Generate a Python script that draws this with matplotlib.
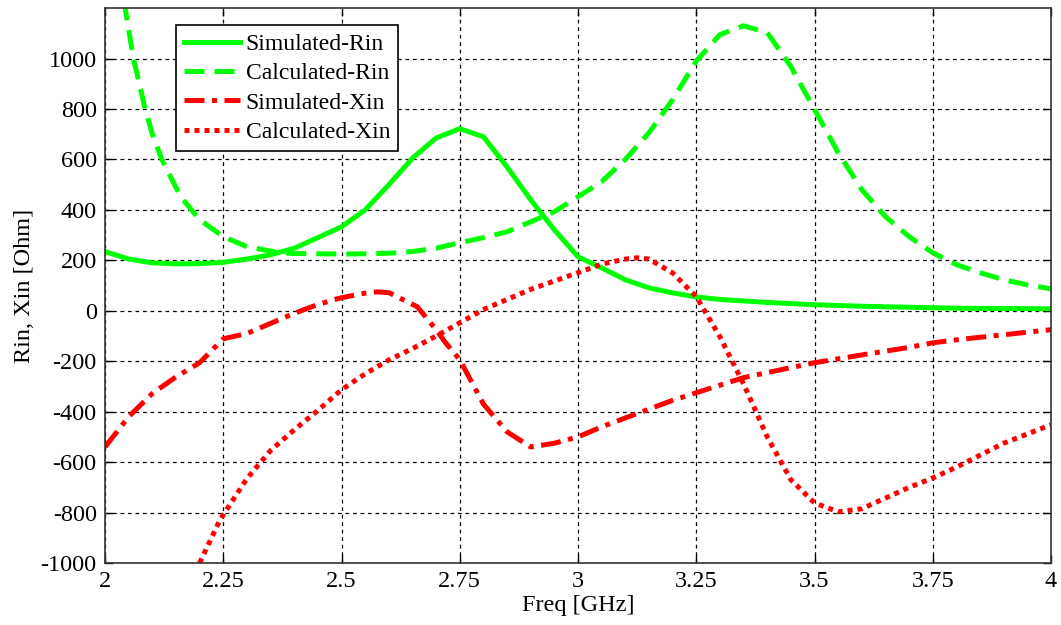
import matplotlib
matplotlib.use('Agg')
import matplotlib.pyplot as plt

plt.rcParams['font.family'] = 'Liberation Serif'
plt.rcParams['font.size'] = 17.5
plt.rcParams['axes.unicode_minus'] = False

# Simulated-Rin (solid green)
f_sim_rin = [2.0, 2.05, 2.1, 2.15, 2.2, 2.25, 2.3, 2.35, 2.4, 2.45, 2.5, 2.55, 2.6, 2.65, 2.7,
             2.75, 2.8, 2.85, 2.9, 2.95, 3.0, 3.05, 3.1, 3.15, 3.2, 3.25, 3.3, 3.4, 3.5, 3.6,
             3.7, 3.8, 3.9, 4.0]
sim_rin = [235, 205, 190, 186, 187, 192, 205, 222, 248, 290, 333, 400, 500, 605, 685,
           722, 690, 570, 440, 321, 214, 170, 123, 91, 71, 55, 45, 33, 24, 18,
           14, 10, 9, 8]

# Calculated-Rin (dashed green)
f_calc_rin = [2.04, 2.06, 2.085, 2.1, 2.12, 2.16, 2.2, 2.25, 2.3, 2.37, 2.4, 2.45, 2.5, 2.55,
              2.6, 2.65, 2.7, 2.75, 2.8, 2.85, 2.9, 2.95, 3.0, 3.05, 3.1, 3.15, 3.2, 3.25,
              3.3, 3.35, 3.4, 3.45, 3.5, 3.55, 3.6, 3.65, 3.7, 3.75, 3.8, 3.85, 3.9, 3.95, 4.0]
calc_rin = [1230, 1000, 800, 700, 600, 452, 361, 294, 254, 230, 227, 226, 225, 226,
            228, 235, 248, 270, 290, 313, 353, 393, 452, 512, 600, 706, 837, 990,
            1095, 1130, 1103, 968, 798, 627, 480, 373, 294, 230, 183, 151, 123, 103, 87]

# Simulated-Xin (dash-dot red)
f_sim_xin = [2.0, 2.05, 2.1, 2.15, 2.2, 2.25, 2.3, 2.35, 2.4, 2.45, 2.5, 2.55, 2.575, 2.6,
             2.66, 2.7, 2.72, 2.75, 2.8, 2.85, 2.9, 2.95, 3.0, 3.05, 3.1, 3.15, 3.2, 3.25, 3.3,
             3.35, 3.4, 3.5, 3.6, 3.7, 3.75, 3.8, 3.9, 4.0]
sim_xin = [-540, -420, -328, -262, -206, -111, -90, -50, -10, 25, 52, 70, 75, 72,
           16, -75, -127, -194, -370, -480, -540, -525, -500, -460, -425, -390, -355, -325, -295,
           -265, -245, -206, -175, -145, -127, -115, -95, -75]

# Calculated-Xin (dotted red)
f_calc_xin = [2.2, 2.243, 2.3, 2.35, 2.4, 2.45, 2.5, 2.55, 2.6, 2.65, 2.7, 2.75, 2.8, 2.9,
              3.0, 3.05, 3.1, 3.125, 3.15, 3.2, 3.25, 3.3, 3.35, 3.4, 3.45, 3.5, 3.55,
              3.6, 3.7, 3.75, 3.8, 3.9, 4.0]
calc_xin = [-1000, -829, -665, -554, -472, -395, -313, -250, -195, -150, -100, -48, 5, 85,
            151, 185, 205, 210, 205, 150, 56, -103, -290, -500, -670, -762, -797,
            -785, -700, -663, -620, -525, -452]

xticks = [2, 2.25, 2.5, 2.75, 3, 3.25, 3.5, 3.75, 4]
xticklabels = ['2', '2.25', '2.5', '2.75', '3', '3.25', '3.5', '3.75', '4']
yticks = [-1000, -800, -600, -400, -200, 0, 200, 400, 600, 800, 1000]

fig = plt.figure(figsize=(10.61, 6.25), dpi=100)
ax = fig.add_axes([0.099, 0.0992, 0.8916, 0.8878])

lw = 3.6
ax.plot(f_sim_rin, sim_rin, color='#00ff00', lw=lw, label='Simulated-Rin')
ax.plot(f_calc_rin, calc_rin, color='#00ff00', lw=lw, linestyle=(0, (4, 2)), label='Calculated-Rin')
ax.plot(f_sim_xin, sim_xin, color='#ff0000', lw=lw, linestyle=(0, (4, 1.5, 1, 1.5)), label='Simulated-Xin')
ax.plot(f_calc_xin, calc_xin, color='#ff0000', lw=lw, linestyle=(0, (1, 1)), label='Calculated-Xin')

ax.set_xlim(2, 4)
ax.set_ylim(-1000, 1200)
ax.set_xticks(xticks)
ax.set_xticklabels(xticklabels)
ax.set_yticks(yticks)
ax.tick_params(direction='in', top=True, right=True, length=6, width=1, pad=6)
ax.grid(True, color='black', linestyle=(0, (3, 3)), linewidth=0.9)
for s in ax.spines.values():
    s.set_linewidth(1.2)
    s.set_color('#333333')

ax.set_xlabel('Freq [GHz]', labelpad=2)
ax.set_ylabel('Rin, Xin [Ohm]', labelpad=4)

leg = ax.legend(loc='upper left', bbox_to_anchor=(0.075, 0.969), borderaxespad=0,
                fancybox=False, edgecolor='black', framealpha=1, handlelength=2.35,
                labelspacing=0.33, borderpad=0.35, handletextpad=0.25, fontsize=17)
leg.get_frame().set_linewidth(1.2)

plt.savefig('out.png', dpi=100)
